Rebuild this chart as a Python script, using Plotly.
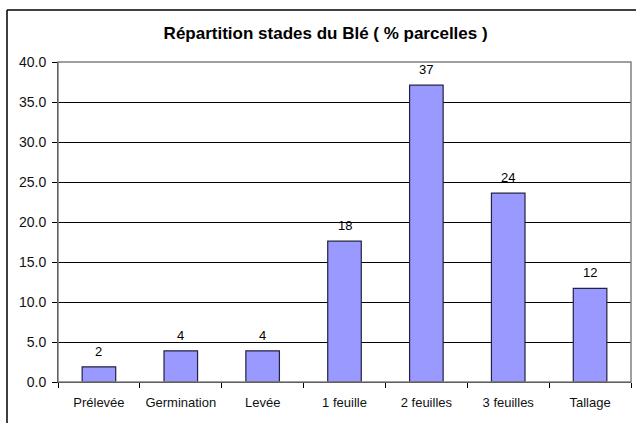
import plotly.graph_objects as go

# Stades du blé et part des parcelles (%)
stades = ['Prélevée', 'Germination', 'Levée', '1 feuille', '2 feuilles', '3 feuilles', 'Tallage']
pourcentages = [1.9, 3.9, 3.9, 17.6, 37.1, 23.6, 11.7]
etiquettes = ['2', '4', '4', '18', '37', '24', '12']
y_ticks = [0, 5, 10, 15, 20, 25, 30, 35, 40]

FONT = 'Liberation Sans, Arial, sans-serif'

fig = go.Figure()
fig.add_trace(go.Bar(
    x=stades,
    y=pourcentages,
    marker=dict(color='#9999FF', line=dict(color='#222244', width=1.2)),
    hoverinfo='x+y'
))

# Value labels above bars
for s, v, t in zip(stades, pourcentages, etiquettes):
    fig.add_annotation(x=s, y=v, text=t, showarrow=False, yanchor='bottom', yshift=6,
                       font=dict(family=FONT, size=13, color='black'))

# Plot area border (gray), drawn over the top gridline
fig.add_shape(type='rect', xref='paper', yref='paper', x0=0, x1=1, y0=0, y1=1,
              line=dict(color='#808080', width=1.5), layer='above')
# Outer chart frame: left and top edges
fig.add_shape(type='line', xref='paper', yref='paper', x0=-0.089, x1=-0.089, y0=-0.2, y1=1.1625,
              line=dict(color='black', width=1.5))
fig.add_shape(type='line', xref='paper', yref='paper', x0=-0.089, x1=1.2, y0=1.1625, y1=1.1625,
              line=dict(color='black', width=1.5))

fig.update_layout(
    width=636,
    height=423,
    margin=dict(l=58, r=5, t=62, b=41),
    paper_bgcolor='white',
    plot_bgcolor='white',
    bargap=0.59,
    showlegend=False,
    font=dict(family=FONT, size=13, color='black'),
    title=dict(text='<b>Répartition stades du Blé ( % parcelles )</b>', x=0.512, xanchor='center',
               y=0.922, yanchor='middle', font=dict(family=FONT, size=17, color='black')),
    xaxis=dict(
        type='category',
        showline=True, linecolor='black', linewidth=1,
        ticks='outside', tickson='boundaries', ticklen=5, tickcolor='black',
        ticklabelstandoff=8,
        showgrid=False,
        tickfont=dict(family=FONT, size=13, color='#111111'),
    ),
    yaxis=dict(
        range=[0, 40],
        tickvals=y_ticks,
        tickformat='.1f',
        showline=True, linecolor='black', linewidth=1,
        ticks='outside', ticklen=5, tickcolor='black',
        ticklabelstandoff=3,
        showgrid=True, gridcolor='black', gridwidth=1,
        zeroline=False,
        tickfont=dict(family=FONT, size=14, color='#111111'),
    ),
)

# remove the browser's default body margin so the figure sits at the page corner
fig.write_html('out.html', config={'displayModeBar': False},
               post_script="document.body.style.margin='0';")
